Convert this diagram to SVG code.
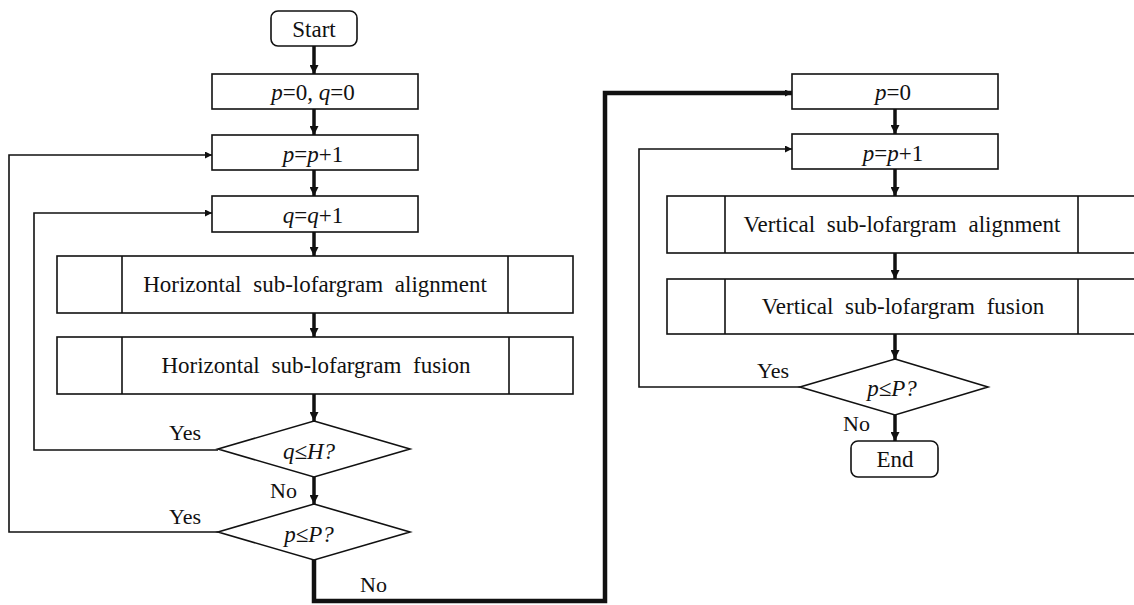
<svg xmlns="http://www.w3.org/2000/svg" width="1134" height="605" viewBox="0 0 1134 605" font-family="Liberation Serif, Tinos, Times New Roman, DejaVu Serif, serif">
  <style>
    .box { fill: #ffffff; stroke: #111111; stroke-width: 1.6; }
    .div { stroke: #111111; stroke-width: 1.6; }
    .lbl { font-size: 23px; fill: #111111; text-anchor: middle; }
    .wide { word-spacing: 6px; }
    .tag { font-size: 22px; fill: #111111; }
    .it { font-style: italic; }
    .flow { fill: none; stroke: #111111; stroke-width: 3.5; }
    .loop { fill: none; stroke: #111111; stroke-width: 1.6; }
    .jump { fill: none; stroke: #111111; stroke-width: 4.5; }
  </style>
  <defs>
    <marker id="bigHead" viewBox="0 0 10 10" refX="10" refY="5" markerWidth="10" markerHeight="9" markerUnits="userSpaceOnUse" orient="auto">
      <path d="M0,0 L10,5 L0,10 z" fill="#111111"/>
    </marker>
    <marker id="smallHead" viewBox="0 0 10 10" refX="10" refY="5" markerWidth="9" markerHeight="7" markerUnits="userSpaceOnUse" orient="auto">
      <path d="M0,0 L10,5 L0,10 z" fill="#111111"/>
    </marker>
  </defs>

  <!-- connectors -->
  <g id="connectors">
    <!-- left column main flow -->
    <line class="flow" x1="314" y1="46" x2="314" y2="74" marker-end="url(#bigHead)"/>
    <line class="flow" x1="314" y1="109" x2="314" y2="135" marker-end="url(#bigHead)"/>
    <line class="flow" x1="314" y1="170" x2="314" y2="196" marker-end="url(#bigHead)"/>
    <line class="flow" x1="314" y1="232" x2="314" y2="256" marker-end="url(#bigHead)"/>
    <line class="flow" x1="314" y1="313" x2="314" y2="337" marker-end="url(#bigHead)"/>
    <line class="flow" x1="314" y1="394" x2="314" y2="421" marker-end="url(#bigHead)"/>
    <line class="flow" x1="314" y1="477" x2="314" y2="504" marker-end="url(#bigHead)"/>
    <!-- loop back to q=q+1 -->
    <polyline class="loop" points="218,450 34,450 34,213 212,213" marker-end="url(#smallHead)"/>
    <!-- loop back to p=p+1 -->
    <polyline class="loop" points="218,532 9,532 9,155 212,155" marker-end="url(#smallHead)"/>
    <!-- exit to second stage -->
    <polyline class="jump" points="314,560 314,601 605,601 605,93 792,93" marker-end="url(#smallHead)"/>
    <!-- right column main flow -->
    <line class="flow" x1="895" y1="109" x2="895" y2="134" marker-end="url(#bigHead)"/>
    <line class="flow" x1="895" y1="169" x2="895" y2="196" marker-end="url(#bigHead)"/>
    <line class="flow" x1="895" y1="253" x2="895" y2="279" marker-end="url(#bigHead)"/>
    <line class="flow" x1="895" y1="334" x2="895" y2="359" marker-end="url(#bigHead)"/>
    <line class="flow" x1="895" y1="415" x2="895" y2="441" marker-end="url(#bigHead)"/>
    <!-- loop back to p=p+1 (second stage) -->
    <polyline class="loop" points="800,387 639,387 639,149 792,149" marker-end="url(#smallHead)"/>
  </g>

  <!-- branch labels -->
  <g id="branch-labels">
    <text class="tag" x="169" y="440">Yes</text>
    <text class="tag" x="169" y="524">Yes</text>
    <text class="tag" x="270" y="498">No</text>
    <text class="tag" x="360" y="592">No</text>
    <text class="tag" x="757" y="378">Yes</text>
    <text class="tag" x="843" y="431">No</text>
  </g>

  <!-- first stage -->
  <g id="start">
    <rect class="box" x="271" y="11" width="86" height="35" rx="7"/>
    <text class="lbl" x="314" y="37">Start</text>
  </g>
  <g id="init-pq">
    <rect class="box" x="212" y="74" width="206" height="35"/>
    <text class="lbl" x="313" y="100"><tspan class="it">p</tspan>=0, <tspan class="it">q</tspan>=0</text>
  </g>
  <g id="inc-p">
    <rect class="box" x="212" y="135" width="206" height="35"/>
    <text class="lbl" x="313" y="162"><tspan class="it">p</tspan>=<tspan class="it">p</tspan>+1</text>
  </g>
  <g id="inc-q">
    <rect class="box" x="212" y="196" width="206" height="36"/>
    <text class="lbl" x="313" y="223"><tspan class="it">q</tspan>=<tspan class="it">q</tspan>+1</text>
  </g>
  <g id="h-align">
    <rect class="box" x="57" y="256" width="516" height="57"/>
    <line class="div" x1="122" y1="256" x2="122" y2="313"/>
    <line class="div" x1="508" y1="256" x2="508" y2="313"/>
    <text class="lbl wide" x="315" y="292">Horizontal sub-lofargram alignment</text>
  </g>
  <g id="h-fusion">
    <rect class="box" x="57" y="337" width="516" height="57"/>
    <line class="div" x1="122" y1="337" x2="122" y2="394"/>
    <line class="div" x1="509" y1="337" x2="509" y2="394"/>
    <text class="lbl wide" x="316" y="373">Horizontal sub-lofargram fusion</text>
  </g>
  <g id="test-q">
    <polygon class="box" points="314,421 410,449 314,477 218,449"/>
    <text class="lbl it" x="309" y="459">q≤H?</text>
  </g>
  <g id="test-p">
    <polygon class="box" points="314,504 410,532 314,560 218,532"/>
    <text class="lbl it" x="309" y="542">p≤P?</text>
  </g>

  <!-- second stage -->
  <g id="init-p">
    <rect class="box" x="792" y="74" width="206" height="35"/>
    <text class="lbl" x="893" y="100"><tspan class="it">p</tspan>=0</text>
  </g>
  <g id="inc-p2">
    <rect class="box" x="792" y="134" width="206" height="35"/>
    <text class="lbl" x="893" y="161"><tspan class="it">p</tspan>=<tspan class="it">p</tspan>+1</text>
  </g>
  <g id="v-align">
    <rect class="box" x="667" y="196" width="472" height="57"/>
    <line class="div" x1="725" y1="196" x2="725" y2="253"/>
    <line class="div" x1="1078" y1="196" x2="1078" y2="253"/>
    <text class="lbl wide" x="902" y="232">Vertical sub-lofargram alignment</text>
  </g>
  <g id="v-fusion">
    <rect class="box" x="667" y="279" width="472" height="55"/>
    <line class="div" x1="725" y1="279" x2="725" y2="334"/>
    <line class="div" x1="1078" y1="279" x2="1078" y2="334"/>
    <text class="lbl wide" x="903" y="314">Vertical sub-lofargram fusion</text>
  </g>
  <g id="test-p2">
    <polygon class="box" points="895,359 988,387 895,415 800,387"/>
    <text class="lbl it" x="892" y="396">p≤P?</text>
  </g>
  <g id="end">
    <rect class="box" x="851" y="441" width="87" height="36" rx="7"/>
    <text class="lbl" x="895" y="467">End</text>
  </g>
</svg>
